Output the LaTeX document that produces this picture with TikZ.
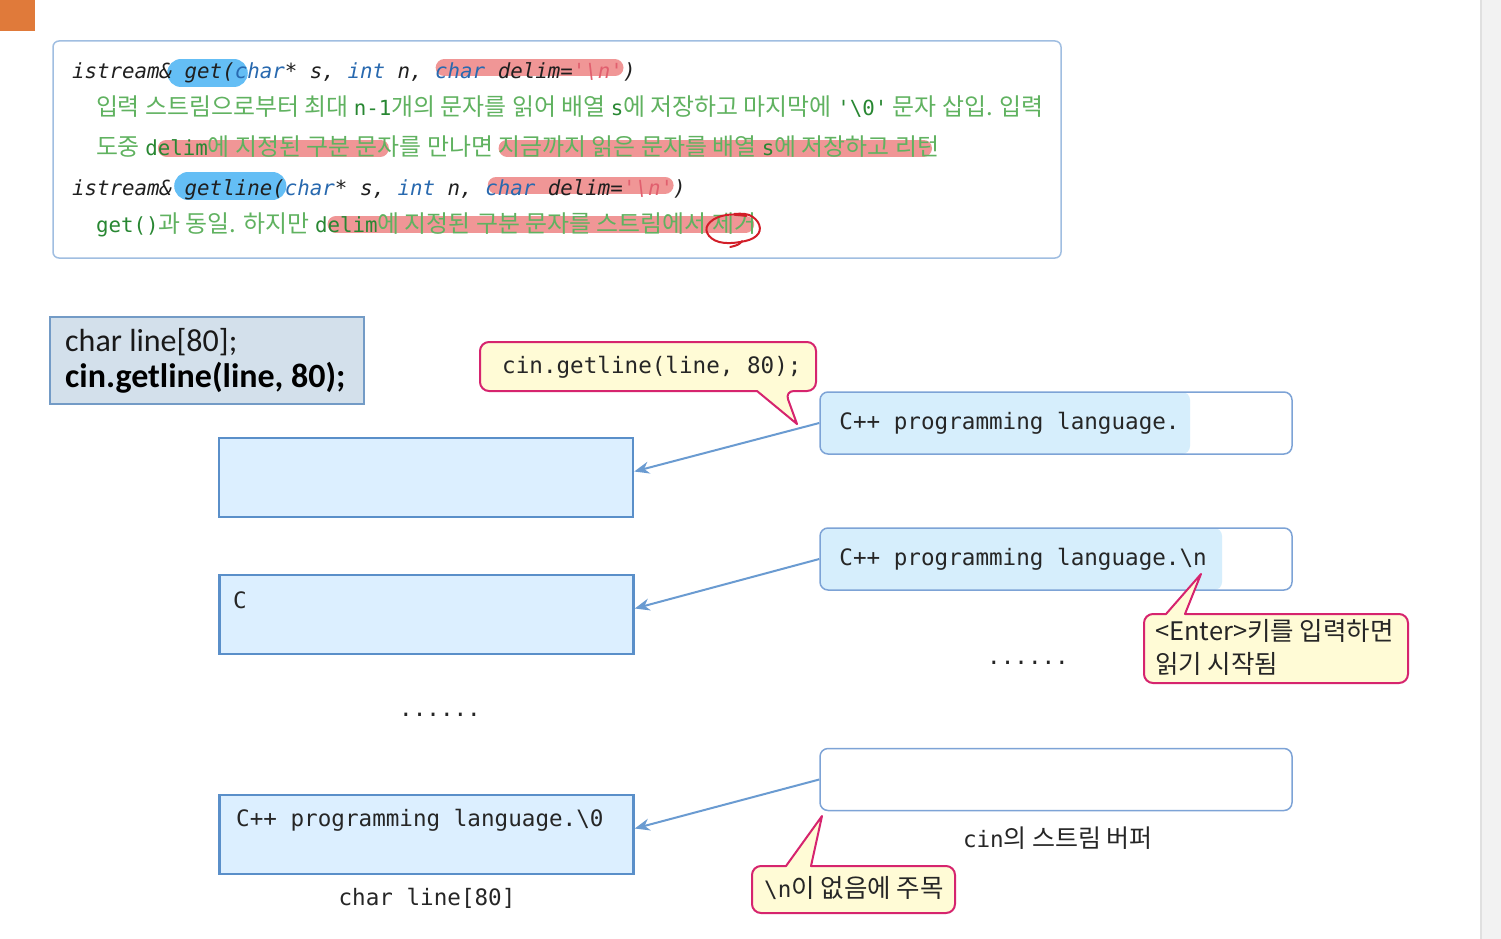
\documentclass[tikz,border=0pt]{standalone}
\usepackage{fontspec}
\setmainfont{Noto Sans CJK KR}
\newfontfamily\kr{Noto Sans CJK KR}
\newfontfamily\mono{DejaVu Sans Mono}[Ligatures=TeXOff]
\newfontfamily\carl{Carlito}
\usetikzlibrary{calc,arrows.meta}
\pgfdeclarelayer{bg}
\pgfsetlayers{bg,main}
\definecolor{kw}{RGB}{40,105,175}
\definecolor{strc}{RGB}{225,95,110}
\definecolor{gtxt}{RGB}{96,178,96}
\definecolor{gcode}{RGB}{40,135,50}
\definecolor{hlred}{RGB}{240,150,150}
\definecolor{hlblue}{RGB}{100,190,245}
\definecolor{boxline}{RGB}{160,190,225}
\definecolor{arrline}{RGB}{90,143,201}
\definecolor{arrfill}{RGB}{220,239,255}
\definecolor{buffline}{RGB}{125,163,214}
\definecolor{bufffill}{RGB}{214,238,252}
\definecolor{callfill}{RGB}{255,251,214}
\definecolor{callline}{RGB}{214,36,110}
\definecolor{declfill}{RGB}{211,224,235}
\definecolor{declline}{RGB}{115,155,198}
\definecolor{conncol}{RGB}{106,155,209}
\definecolor{myorange}{RGB}{224,122,58}
\definecolor{penred}{RGB}{210,30,40}
\newcommand\ksp{\kern\fontdimen2\font}
\newcommand\fmono{\mono\fontsize{20.8}{24}\selectfont\itshape}
\newcommand\fkr{\kr\fontsize{23.9}{28}\selectfont\color{gtxt}}
\newcommand\gcf{\mono\fontsize{20.8}{24}\selectfont}
\newcommand\gc[1]{{\gcf\color{gcode}#1}}
\newcommand\mc{\mono\fontsize{22.6}{26}\selectfont}
\newcommand\kc{\kr\fontsize{25.5}{33}\selectfont}
\begin{document}
\begin{tikzpicture}[x=1pt,y=-1pt,
  seg/.style={inner sep=0pt,outer sep=0pt,anchor=base west},
  tl/.style={seg,font=\fmono,text=black!88},
  kl/.style={seg,font=\fkr},
  gl/.style={seg,font=\gcf,text=gcode},
  hlr/.style={draw=hlred,line width=17pt,line cap=round},
  hlb/.style={draw=hlblue,line width=28pt,line cap=round},
  arrbox/.style={draw=arrline,line width=2.5pt,fill=arrfill,minimum width=414pt,minimum height=79pt,inner sep=0pt},
  buf/.style={draw=buffline,line width=1.5pt,fill=white,rounded corners=8pt,minimum width=472pt,minimum height=62pt,inner sep=0pt},
  call/.style={draw=callline,line width=2pt,fill=callfill,line join=round},
  conn/.style={draw=conncol,line width=2pt,-{Stealth[length=15pt,width=12pt]}},
  codetxt/.style={font=\mc,text=black!85,inner sep=0pt,anchor=west},
  krtxt/.style={font=\kc,text=black!85,inner sep=0pt},
]
\useasboundingbox (0,0) rectangle (1501,939);
\begin{pgfonlayer}{bg}
\fill[white] (0,0) rectangle (1501,939);
\end{pgfonlayer}
% window chrome
\fill[black!5] (1480,0) rectangle (1501,939);
\draw[black!12,line width=2pt] (1481,0) -- (1481,939);
\fill[myorange] (0,0) rectangle (35,31);

% top description box
\node[draw=boxline,line width=1.5pt,rounded corners=6pt,minimum width=1008pt,minimum height=217pt,inner sep=0pt] (topbox) at (557,149.5) {};

% line 1
\node[tl] (t11) at (72,79) {istream\&\ksp};
\node[tl] (t12) at (t11.base east) {get(};
\node[tl,text=kw] (t13) at (t12.base east) {char};
\node[tl] (t14) at (t13.base east) {*\ksp s,\ksp};
\node[tl,text=kw] (t15) at (t14.base east) {int};
\node[tl] (t16) at (t15.base east) {\ksp n,\ksp};
\node[tl,text=kw] (t17) at (t16.base east) {char};
\node[tl] (t18) at (t17.base east) {\ksp delim=};
\node[tl,text=strc] (t19) at (t18.base east) {'\textbackslash n'};
\node[tl] (t1a) at (t19.base east) {)};

% line 2
\node[kl] (l2) at (96,116) {입력 스트림으로부터 최대 \gc{n-1}개의 문자를 읽어 배열 \gc{s}에 저장하고 마지막에 \gc{'\textbackslash0'} 문자 삽입. 입력};

% line 3
\node[kl] (s31) at (96,155) {도중\ksp};
\node[gl] (s32) at (s31.base east) {d};
\node[gl] (s33) at (s32.base east) {elim};
\node[kl] (s34) at (s33.base east) {에 지정된 구분 문};
\node[kl] (s35) at (s34.base east) {자};
\node[kl] (s36) at (s35.base east) {를 만나면\ksp};
\node[kl] (s37) at (s36.base east) {지금까지 읽은 문자를 배열\ksp};
\node[gl] (s38) at (s37.base east) {s};
\node[kl] (s39) at (s38.base east) {에 저장하고 리};
\node[kl] (s3a) at (s39.base east) {턴};

% line 4
\node[tl] (t41) at (72,195) {istream\&\ksp};
\node[tl] (t42) at (t41.base east) {getline(};
\node[tl,text=kw] (t43) at (t42.base east) {char};
\node[tl] (t44) at (t43.base east) {*\ksp s,\ksp};
\node[tl,text=kw] (t45) at (t44.base east) {int};
\node[tl] (t46) at (t45.base east) {\ksp n,\ksp};
\node[tl,text=kw] (t47) at (t46.base east) {char};
\node[tl] (t48) at (t47.base east) {\ksp delim=};
\node[tl,text=strc] (t49) at (t48.base east) {'\textbackslash n'};
\node[tl] (t4a) at (t49.base east) {)};

% line 5
\node[gl] (s51) at (96,232) {get()};
\node[kl] (s52) at (s51.base east) {과 동일. 하지만\ksp};
\node[gl] (s53) at (s52.base east) {d};
\node[gl] (s54) at (s53.base east) {elim};
\node[kl] (s55) at (s54.base east) {에 지정된 구분 문자를 스트림에서\ksp};
\node[kl] (s56) at (s55.base east) {제거};

% highlighter marks
\begin{pgfonlayer}{bg}
\draw[hlb] ($(t12.base west)+(-3.5,-6)$) -- ($(t13.base west)+(-1,-6)$);
\draw[hlr] ($(t17.base west)+(9,-11)$) -- ($(t19.base east)+(-8,-11)$);
\draw[hlr] ($(s33.base west)+(8.5,-7)$) -- ($(s35.base)+(-8.5,-7)$);
\draw[hlr] ($(s37.base west)+(8.5,-7)$) -- ($(s3a.base east)+(-15.5,-7)$);
\draw[hlb] ($(t42.base west)+(3.5,-9)$) -- ($(t42.base east)+(-12.5,-9)$);
\draw[hlr] ($(t47.base west)+(11,-10)$) -- ($(t49.base east)+(-8,-10)$);
\draw[hlr] ($(s54.base west)+(8.5,-8)$) -- ($(s56.base east)+(-10.5,-8)$);
\end{pgfonlayer}
\coordinate (cc) at ($(s56.base)+(-2,-2)$);
\begin{scope}[shift={(cc)}]
\draw[penred,line width=2pt,line cap=round] plot[smooth,tension=0.7] coordinates {(14,-14) (-6,-15) (-22,-8) (-25,3) (-13,12) (8,12) (24,6) (27,-5) (17,-15) (2,-16)};
\draw[penred,line width=2pt,line cap=round] (10,11) .. controls (6,15) .. (-2,17);
\end{scope}

% declaration box
\node[draw=declline,line width=1.5pt,fill=declfill,minimum width=314pt,minimum height=87pt,inner sep=0pt] (decl) at (207,360.5) {};
\node[font=\carl\fontsize{32}{36}\selectfont,anchor=west,inner sep=0pt,text=black!90] (d1) at (65,342) {char line[80];};
\node[font=\carl\bfseries\fontsize{34}{36}\selectfont,anchor=west,inner sep=0pt] (d2) at (65,378) {cin.getline(line, 80);};

% arrays
\node[arrbox] (a1) at (426,477.5) {};
\node[arrbox] (a2) at (426.5,614.5) {};
\node[arrbox] (a3) at (426.5,834.5) {};
\node[codetxt] (a2t) at (233,600) {C};
\node[codetxt] (a3t) at (236,820) {C++ programming language.\textbackslash0};
\node[font=\mc,text=black!85,inner sep=0pt] (dotsl) at (440,715) {......};
\node[font=\mc,text=black!85,inner sep=0pt] (alabel) at (427,898) {char line[80]};

% buffers
\node[buf,path picture={\fill[bufffill] (path picture bounding box.north west) rectangle ([xshift=370pt]path picture bounding box.south west);}] (b1) at (1056,423) {};
\node[buf,path picture={\fill[bufffill] (path picture bounding box.north west) rectangle ([xshift=402pt]path picture bounding box.south west);}] (b2) at (1056,559) {};
\node[buf] (b3) at (1056,779.5) {};
\node[codetxt] (b1t) at ([xshift=20pt]b1.west) {C++ programming language.};
\node[codetxt] (b2t) at ([xshift=20pt]b2.west) {C++ programming language.\textbackslash n};
\node[font=\mc,text=black!85,inner sep=0pt] (dotsr) at (1028,663) {......};
\node[krtxt,font=\kr\fontsize{25}{30}\selectfont] (blabel) at (1058,838) {{\mc cin}의 스트림 버퍼};

% connectors
\draw[conn] (b1.west) -- ([yshift=6pt]a1.east);
\draw[conn] (b2.west) -- ([yshift=6pt]a2.east);
\draw[conn] (b3.west) -- ([yshift=6pt]a3.east);

% callout 1
\coordinate (p1) at (797,424);
\draw[call] [rounded corners=9pt] (480,366) -- (480,342) -- (816,342) -- (816,391) -- (785,391) [sharp corners] -- (p1) -- (757,391) [rounded corners=9pt] -- (480,391) -- cycle;
\node[codetxt] (c1t) at (502,367) {cin.getline(line, 80);};

% callout 2
\coordinate (p2) at (1201,574);
\draw[call] [rounded corners=9pt] (1144,650) -- (1144,614) [sharp corners] -- (1166,614) -- (p2) -- (1185,614) [rounded corners=9pt] -- (1408,614) -- (1408,683) -- (1144,683) -- cycle;
\node[krtxt,anchor=west,align=left] (c2t) at (1155,647.5) {<Enter>키를 입력하면\\읽기 시작됨};

% callout 3
\coordinate (p3) at (822,816);
\draw[call] [rounded corners=9pt] (752,890) -- (752,866) [sharp corners] -- (786,866) -- (p3) -- (811,866) [rounded corners=9pt] -- (955,866) -- (955,913) -- (752,913) -- cycle;
\node[krtxt,anchor=west] (c3t) at (764,888) {{\mc\textbackslash n}이 없음에 주목};
\end{tikzpicture}
\end{document}
